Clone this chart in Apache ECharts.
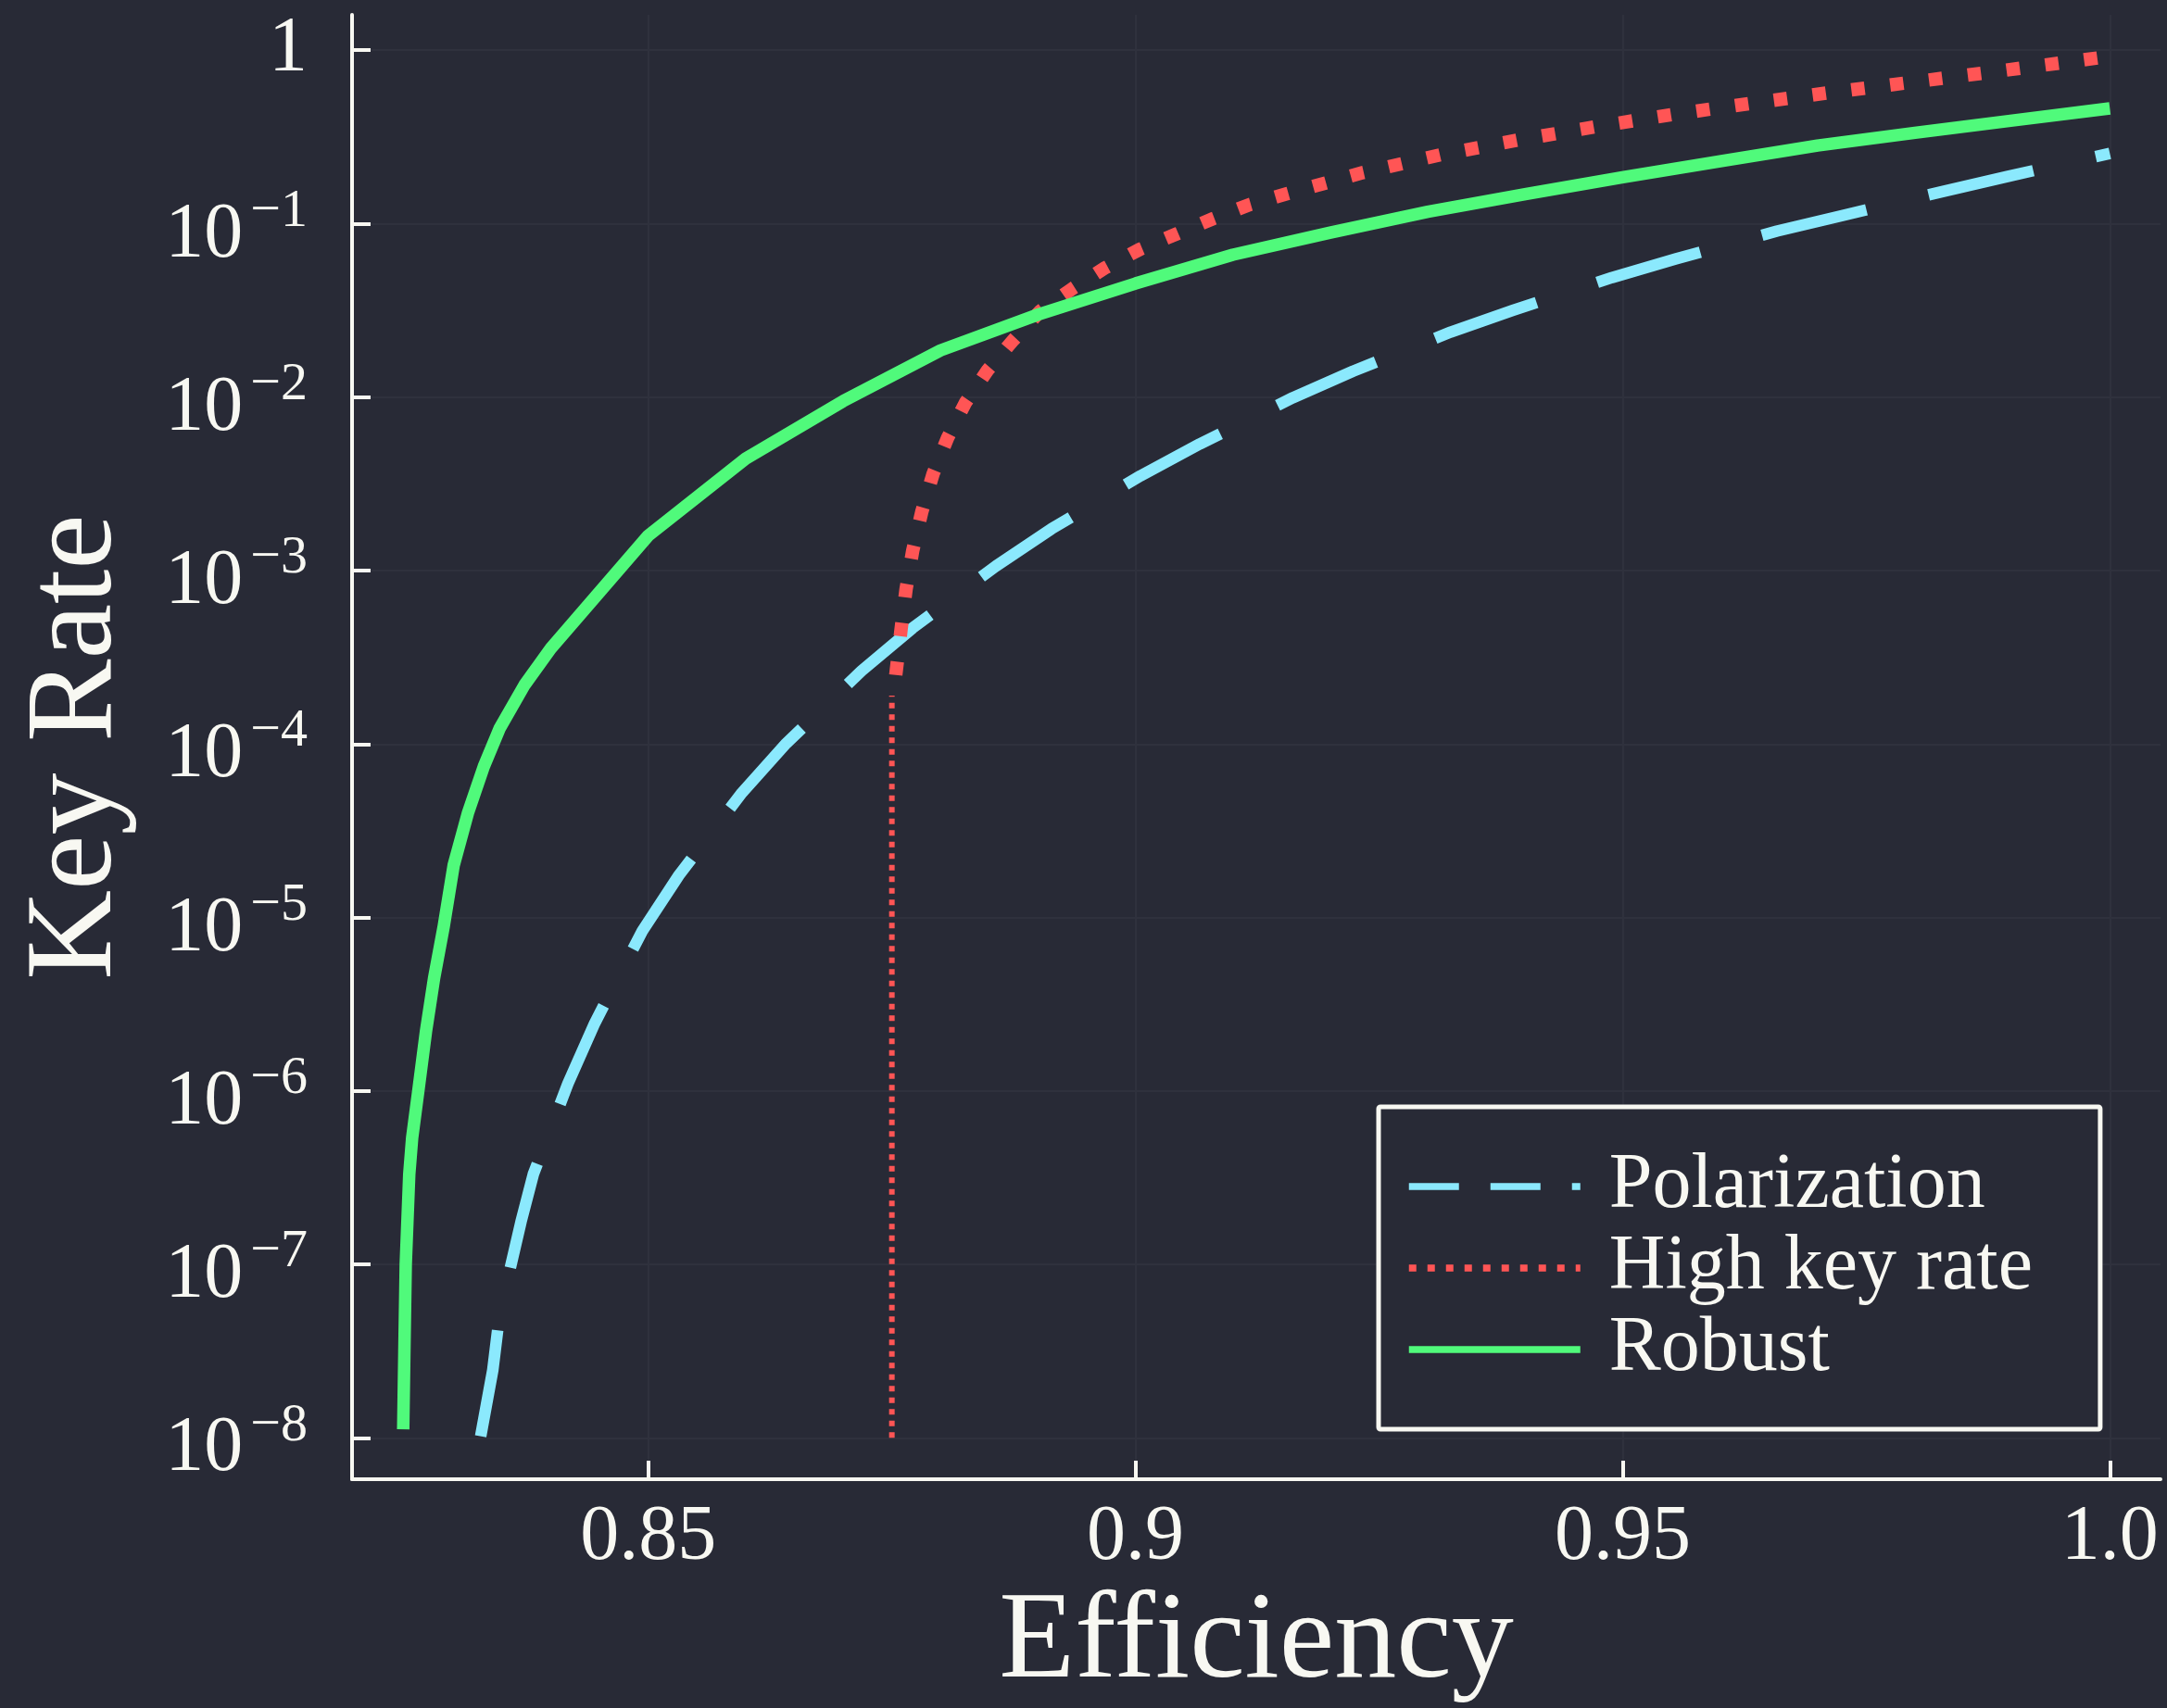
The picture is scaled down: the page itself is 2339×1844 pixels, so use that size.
<!DOCTYPE html>
<html>
<head>
<meta charset="utf-8">
<script src="https://cdn.jsdelivr.net/npm/echarts@6/dist/echarts.min.js"></script>
<style>
  html, body { margin: 0; padding: 0; background: #282a36; }
  #chart { width: 2339px; height: 1844px; }
</style>
</head>
<body>
<div id="chart"></div>
<script>
// ---------------- data ----------------
const efficiencyTicks = [0.85, 0.9, 0.95, 1.0];
const rateTickExponents = [-8, -7, -6, -5, -4, -3, -2, -1, 0];

const polarizationX = [0.8328, 0.83404, 0.83475, 0.83694, 0.83822, 0.84175, 0.84451, 0.84939, 0.85314, 0.85962,
  0.86417, 0.87189, 0.87712, 0.88567, 0.89138, 0.90052, 0.9066, 0.91614, 0.92233, 0.93234,
  0.93871, 0.9489, 0.95545, 0.96583, 0.97244, 0.98281, 0.98946, 1.0];
const polarizationY = [1.02e-8, 2.45e-8, 5.2e-8, 1.76e-7, 3.33e-7, 1.10e-6, 2.46e-6, 8.36e-6, 1.75e-5, 5.24e-5,
  1.01e-4, 2.64e-4, 4.66e-4, 1.06e-3, 1.74e-3, 3.52e-3, 5.37e-3, 9.91e-3, 1.41e-2, 2.37e-2,
  3.16e-2, 4.89e-2, 6.27e-2, 9.06e-2, 0.111, 0.153, 0.187, 0.254];

const highRateX = [0.8754, 0.87596, 0.87646, 0.87715, 0.87807, 0.87923, 0.88072, 0.88254, 0.88483, 0.88742,
  0.89022, 0.89353, 0.89688, 0.90048, 0.90423, 0.90798, 0.91176, 0.91559, 0.92335, 0.93125,
  0.93921, 0.94719, 0.95516, 0.96317, 0.97118, 0.97919, 0.98725, 0.99526, 1.0];
const highRateY = [2.5e-4, 4.66e-4, 7.82e-4, 1.31e-3, 2.18e-3, 3.61e-3, 5.82e-3, 9.27e-3, 1.43e-2, 2.12e-2,
  3.13e-2, 4.22e-2, 5.56e-2, 7.13e-2, 8.73e-2, 0.107, 0.129, 0.149, 0.197, 0.249,
  0.303, 0.362, 0.426, 0.494, 0.569, 0.649, 0.741, 0.849, 0.923];

const highRateFloorX = [0.875, 0.875];
const highRateFloorY = [1.0e-8, 1.9e-4];

const robustX = [0.82485, 0.82497, 0.82511, 0.82547, 0.82577, 0.82642, 0.82718, 0.82802, 0.82901, 0.83003,
  0.83148, 0.83312, 0.83475, 0.8373, 0.84, 0.85, 0.86, 0.87, 0.88, 0.89,
  0.90, 0.91, 0.92, 0.93, 0.94, 0.95, 0.96, 0.97, 0.98, 0.99, 1.0];
const robustY = [1.12e-8, 3.16e-8, 1.0e-7, 3.31e-7, 5.37e-7, 1.02e-6, 2.19e-6, 4.47e-6, 8.91e-6, 2.0e-5,
  3.98e-5, 7.41e-5, 1.23e-4, 2.19e-4, 3.56e-4, 1.59e-3, 4.42e-3, 9.48e-3, 1.86e-2, 2.99e-2,
  4.52e-2, 6.62e-2, 8.89e-2, 0.117, 0.148, 0.185, 0.229, 0.282, 0.334, 0.393, 0.462];

const xRange = [0.8196, 1.0052];
const rateRange = [5.77e-9, 1.6];

// ---------------- chart ----------------
const FONT = 'Liberation Serif';
const FG = '#f8f8f2';
const BG = '#282a36';
const GRID = '#2f313d';

function pairs(xs, ys) {
  return xs.map((x, i) => [x, Math.log10(ys[i])]);
}

const chart = echarts.init(document.getElementById('chart'), null, { renderer: 'canvas' });

const option = {
  animation: false,
  backgroundColor: BG,
  grid: { left: 380, right: 7, top: 16, bottom: 247, containLabel: false, outerBoundsMode: 'none' },
  xAxis: {
    type: 'value',
    min: xRange[0],
    max: xRange[1],
    name: 'Efficiency',
    nameLocation: 'middle',
    nameGap: 106,
    nameTextStyle: { fontFamily: FONT, fontSize: 134, lineHeight: 134, color: FG },
    axisLine: { show: true, onZero: false, lineStyle: { color: FG, width: 4 } },
    axisTick: { show: true, inside: true, length: 20, customValues: efficiencyTicks, lineStyle: { color: FG, width: 4 } },
    axisLabel: {
      customValues: efficiencyTicks,
      margin: 22,
      fontFamily: FONT, fontSize: 84, lineHeight: 84, color: FG,
      formatter: v => (Math.abs(v - 1) < 1e-9 ? '1.0' : String(v))
    },
    splitLine: { show: true, lineStyle: { color: GRID, width: 2 } }
  },
  yAxis: {
    type: 'value',
    min: Math.log10(rateRange[0]),
    max: Math.log10(rateRange[1]),
    name: 'Key Rate',
    nameLocation: 'middle',
    nameRotate: 90,
    nameGap: 229,
    nameTextStyle: { fontFamily: FONT, fontSize: 134, lineHeight: 134, color: FG },
    axisLine: { show: true, onZero: false, lineStyle: { color: FG, width: 4 } },
    axisTick: { show: true, inside: true, length: 20, customValues: rateTickExponents, lineStyle: { color: FG, width: 4 } },
    axisLabel: {
      customValues: rateTickExponents,
      margin: 48,
      fontFamily: FONT, fontSize: 84, lineHeight: 84, color: FG,
      formatter: v => {
        const n = Math.round(v);
        if (n === 0) return '1';
        return '{b|10}{e|\u2212' + (-n) + '}';
      },
      rich: {
        b: { fontFamily: FONT, fontSize: 84, lineHeight: 84, padding: [26, 0, 0, 0], color: FG },
        e: { fontFamily: FONT, fontSize: 58, lineHeight: 66, verticalAlign: 'top', padding: [0, 0, 0, 8], color: FG }
      }
    },
    splitLine: { show: true, lineStyle: { color: GRID, width: 2 } }
  },
  legend: {
    show: true,
    orient: 'vertical',
    left: 1488,
    top: 1195,
    padding: [44, 73, 44, 29],
    itemGap: 4,
    itemWidth: 185,
    itemHeight: 20,
    backgroundColor: BG,
    borderColor: FG,
    borderWidth: 5,
    borderRadius: 2,
    itemStyle: { opacity: 0 },
    textStyle: { fontFamily: FONT, fontSize: 84, lineHeight: 84, color: FG, padding: [0, 0, 0, 26] },
    data: [
      { name: 'Polarization', lineStyle: { color: '#8be9fd', width: 7.5, type: [54, 34], cap: 'butt' } },
      { name: 'High key rate', lineStyle: { color: '#ff5555', width: 7.5, type: [8, 12], cap: 'butt' } },
      { name: 'Robust', lineStyle: { color: '#50fa7b', width: 7.5, type: 'solid', cap: 'butt' } }
    ]
  },
  series: [
    {
      name: 'Polarization', type: 'line', symbol: 'none', silent: true, z: 2,
      data: pairs(polarizationX, polarizationY),
      itemStyle: { color: '#8be9fd' },
      lineStyle: { color: '#8be9fd', width: 12.5, type: [116, 69], cap: 'butt', join: 'round' }
    },
    {
      name: 'High key rate', type: 'line', symbol: 'none', silent: true, z: 3,
      data: pairs(highRateX, highRateY),
      itemStyle: { color: '#ff5555' },
      lineStyle: { color: '#ff5555', width: 14.5, type: [14.5, 27.7], cap: 'butt', join: 'round' }
    },
    {
      name: 'High key rate floor', type: 'line', symbol: 'none', silent: true, z: 3,
      data: pairs(highRateFloorX, highRateFloorY),
      itemStyle: { color: '#ff5555' },
      lineStyle: { color: '#ff5555', width: 6, type: [6, 6.5], cap: 'butt' }
    },
    {
      name: 'Robust', type: 'line', symbol: 'none', silent: true, z: 4,
      data: pairs(robustX, robustY),
      itemStyle: { color: '#50fa7b' },
      lineStyle: { color: '#50fa7b', width: 13.5, type: 'solid', cap: 'butt', join: 'round' }
    }
  ]
};

chart.setOption(option);
</script>
</body>
</html>
